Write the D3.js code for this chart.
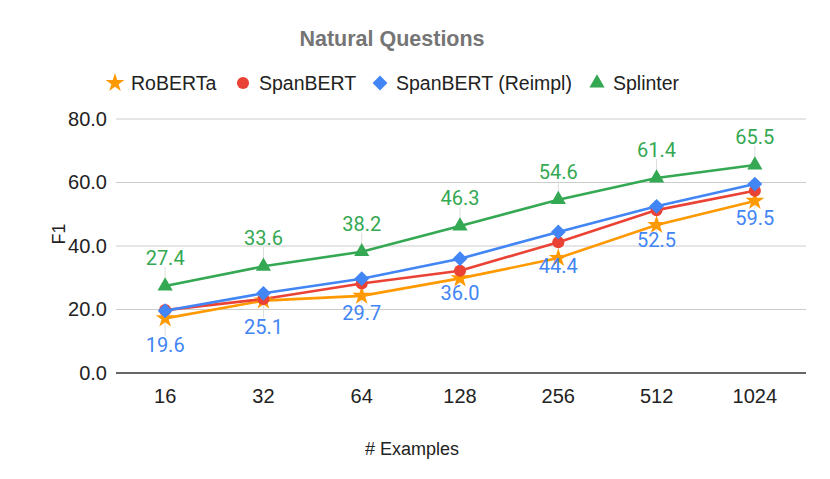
<!DOCTYPE html>
<html>
<head>
<meta charset="utf-8">
<script src="https://cdn.jsdelivr.net/npm/d3@7"></script>
<style>
body{margin:0;background:#fff;}
</style>
</head>
<body>
<script>
var w=830;
var h=479;

var examples=["16","32","64","128","256","512","1024"];
var yTicks=[0,20,40,60,80];

var roberta=[17.2,22.8,24.3,29.8,36.2,46.6,54.2];
var spanbert=[19.8,23.3,28.2,32.2,41.2,51.3,57.4];
var spanbertReimpl=[19.6,25.1,29.7,36.0,44.4,52.5,59.5];
var splinter=[27.4,33.6,38.2,46.3,54.6,61.4,65.5];

var seriesNames=["RoBERTa","SpanBERT","SpanBERT (Reimpl)","Splinter"];

var series=[
	{name:seriesNames[0],values:roberta,color:"#ff9900",symbol:d3.symbolStar,size:110,rot:0,label:null},
	{name:seriesNames[1],values:spanbert,color:"#ea4335",symbol:d3.symbolCircle,size:115,rot:0,label:null},
	{name:seriesNames[2],values:spanbertReimpl,color:"#4285f4",symbol:d3.symbolSquare,size:110,rot:45,label:"below"},
	{name:seriesNames[3],values:splinter,color:"#34a853",symbol:d3.symbolTriangle,size:100,rot:0,label:"above"}
];

var sans="Arial, 'Liberation Sans', sans-serif";

var svg=d3.select("body").append("svg")
	.attr("width",w)
	.attr("height",h)
	.attr("font-family",sans);

var x=d3.scaleBand().domain(examples).range([116,804]);
var y=d3.scaleLinear().domain([0,80]).range([373,119]);

// gridlines
svg.append("g").selectAll("line")
	.data(yTicks.filter(function(d){return d>0;}))
	.enter().append("line")
	.attr("x1",116).attr("x2",806)
	.attr("y1",function(d){return y(d);})
	.attr("y2",function(d){return y(d);})
	.attr("stroke","#cccccc")
	.attr("stroke-width",1);

// y axis labels
var yAxis=d3.axisLeft(y).tickValues(yTicks).tickSize(0).tickPadding(10)
	.tickFormat(function(d){return d3.format(".1f")(d);});
var yg=svg.append("g").attr("transform","translate(117,0)").call(yAxis);
yg.attr("font-family",sans).attr("font-size",20);
yg.select(".domain").remove();
yg.selectAll("text").attr("fill","#222");

// x axis labels
var xAxis=d3.axisBottom(x).tickSize(0).tickPadding(16);
var xg=svg.append("g").attr("transform","translate(0,373)").call(xAxis);
xg.attr("font-family",sans).attr("font-size",20);
xg.select(".domain").remove();
xg.selectAll("text").attr("fill","#222");

// baseline
svg.append("line")
	.attr("x1",116).attr("x2",806)
	.attr("y1",y(0)).attr("y2",y(0))
	.attr("stroke","#333").attr("stroke-width",1.3);

// axis titles
svg.append("text")
	.attr("x",412).attr("y",455)
	.attr("text-anchor","middle")
	.attr("font-size",18).attr("fill","#222")
	.text("# Examples");

svg.append("text")
	.attr("transform","translate(65,234) rotate(-90)")
	.attr("text-anchor","middle")
	.attr("font-size",18).attr("fill","#222")
	.text("F1");

// title
svg.append("text")
	.attr("x",392).attr("y",46)
	.attr("text-anchor","middle")
	.attr("font-size",21.5).attr("font-weight","bold").attr("fill","#757575")
	.text("Natural Questions");

// leader lines sit beneath the lines
var leaders=svg.append("g");
var lines=svg.append("g");
var marks=svg.append("g");
var labels=svg.append("g");

var line=d3.line()
	.x(function(d,i){return x(examples[i])+x.bandwidth()/2;})
	.y(function(d){return y(d);});

series.forEach(function(s){
	lines.append("path")
		.datum(s.values)
		.attr("d",line)
		.attr("fill","none")
		.attr("stroke",s.color)
		.attr("stroke-width",2.6);

	marks.selectAll(null)
		.data(s.values)
		.enter().append("path")
		.attr("d",d3.symbol().type(s.symbol).size(s.size))
		.attr("fill",s.color)
		.attr("transform",function(d,i){
			return "translate("+(x(examples[i])+x.bandwidth()/2)+","+y(d)+") rotate("+s.rot+")";
		});

	if(s.label){
		var up=s.label=="above";
		leaders.selectAll(null)
			.data(s.values)
			.enter().append("line")
			.attr("x1",function(d,i){return x(examples[i])+x.bandwidth()/2;})
			.attr("x2",function(d,i){return x(examples[i])+x.bandwidth()/2;})
			.attr("y1",function(d){return y(d);})
			.attr("y2",function(d){return up?y(d)-19:y(d)+25;})
			.attr("stroke","#dddddd")
			.attr("stroke-width",1);

		labels.selectAll(null)
			.data(s.values)
			.enter().append("text")
			.attr("x",function(d,i){return x(examples[i])+x.bandwidth()/2;})
			.attr("y",function(d){return up?y(d)-21:y(d)+41;})
			.attr("text-anchor","middle")
			.attr("font-family","Roboto, sans-serif")
			.attr("font-size",20)
			.attr("fill",s.color)
			.text(function(d){return d3.format(".1f")(d);});
	}
});

// legend
var legendX=[115,243,380,597];
var legend=svg.append("g");
series.forEach(function(s,i){
	var g=legend.append("g").attr("transform","translate("+legendX[i]+",83)");
	g.append("path")
		.attr("d",d3.symbol().type(s.symbol).size(s.size))
		.attr("fill",s.color)
		.attr("transform","rotate("+s.rot+")");
	g.append("text")
		.attr("x",16).attr("y",7)
		.attr("font-size",19.5).attr("fill","#222")
		.text(s.name);
});
</script>
</body>
</html>
